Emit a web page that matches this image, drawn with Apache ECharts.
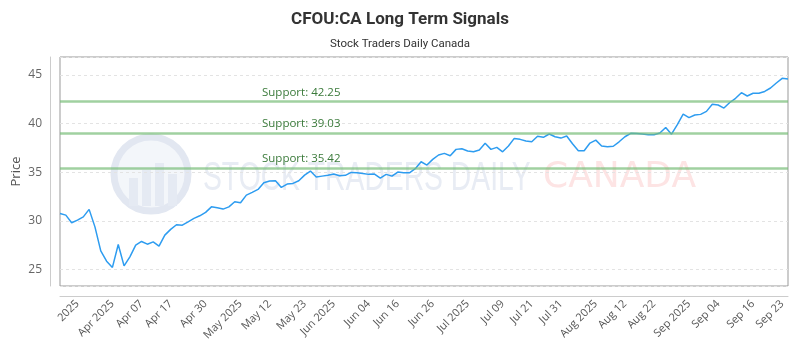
<!DOCTYPE html>
<html>
<head>
<meta charset="utf-8">
<script src="https://cdn.jsdelivr.net/npm/echarts@6/dist/echarts.min.js"></script>
<style>html,body{margin:0;padding:0;background:#fff;}#c{width:800px;height:350px;}</style>
</head>
<body>
<div id="c"></div>
<script>
const titleText = 'CFOU:CA Long Term Signals';
const subtitleText = 'Stock Traders Daily Canada';
const categories = [
  '', '', '', '2025', '', '', '', '', '', 'Apr 2025',
  '', '', '', '', 'Apr 07', '', '', '', '', 'Apr 17',
  '', '', '', '', '', 'Apr 30', '', '', '', '',
  '', 'May 2025', '', '', '', '', 'May 12', '', '', '',
  '', '', 'May 23', '', '', '', '', 'Jun 2025', '', '',
  '', '', '', 'Jun 04', '', '', '', '', 'Jun 16', '',
  '', '', '', '', 'Jun 26', '', '', '', '', '',
  'Jul 2025', '', '', '', '', '', 'Jul 09', '', '', '',
  '', 'Jul 21', '', '', '', '', 'Jul 31', '', '', '',
  '', '', 'Aug 2025', '', '', '', '', 'Aug 12', '', '',
  '', '', 'Aug 22', '', '', '', '', '', 'Sep 2025', '',
  '', '', '', 'Sep 04', '', '', '', '', '', 'Sep 16',
  '', '', '', '', 'Sep 23', ''
];
const prices = [
  30.76, 30.59, 29.80, 30.07, 30.41, 31.18, 29.38, 26.91, 25.85, 25.21,
  27.57, 25.37, 26.30, 27.50, 27.88, 27.60, 27.84, 27.40, 28.53, 29.12,
  29.60, 29.56, 29.90, 30.25, 30.52, 30.87, 31.44, 31.34, 31.21, 31.44,
  31.96, 31.86, 32.65, 32.93, 33.23, 33.91, 34.09, 34.12, 33.44, 33.78,
  33.85, 34.12, 34.70, 35.12, 34.50, 34.60, 34.68, 34.81, 34.63, 34.68,
  34.98, 34.94, 34.88, 34.78, 34.81, 34.40, 34.78, 34.60, 35.02, 34.94,
  34.94, 35.36, 36.08, 35.74, 36.32, 36.77, 36.94, 36.69, 37.35, 37.41,
  37.18, 37.10, 37.28, 37.97, 37.35, 37.56, 37.10, 37.69, 38.48, 38.38,
  38.21, 38.13, 38.70, 38.59, 38.93, 38.65, 38.51, 38.72, 37.93, 37.21,
  37.21, 38.00, 38.30, 37.70, 37.62, 37.67, 38.13, 38.65, 39.00, 38.98,
  38.94, 38.86, 38.86, 39.03, 39.60, 38.91, 39.89, 40.97, 40.62, 40.88,
  40.95, 41.26, 41.99, 41.91, 41.60, 42.17, 42.60, 43.18, 42.84, 43.12,
  43.12, 43.31, 43.66, 44.18, 44.66, 44.60
];
const supportLevels = [42.25, 39.03, 35.42];
const yTicks = [25, 30, 35, 40, 45];

const chart = echarts.init(document.getElementById('c'), null, {renderer: 'canvas'});
const option = {
  animation: false,
  backgroundColor: '#fff',
  title: [
    {text: titleText, left: 'center', top: 6,
     textStyle: {fontFamily: 'Roboto, sans-serif', fontSize: 17, fontWeight: 'bold', color: '#333'}},
    {text: subtitleText, left: 'center', top: 33,
     textStyle: {fontFamily: 'Roboto, sans-serif', fontSize: 11.5, fontWeight: 'normal', color: '#333'}}
  ],
  graphic: [
    {type: 'circle', shape: {cx: 151, cy: 174, r: 37}, style: {fill: 'rgba(222,228,240,0.35)', stroke: '#e2e7f1', lineWidth: 7}, z: -10, silent: true},
    {type: 'rect', shape: {x: 129, y: 178, width: 9, height: 28}, style: {fill: '#e5eaf3'}, z: -10, silent: true},
    {type: 'rect', shape: {x: 142, y: 170, width: 9, height: 36}, style: {fill: '#e5eaf3'}, z: -10, silent: true},
    {type: 'rect', shape: {x: 155, y: 163, width: 9, height: 43}, style: {fill: '#e5eaf3'}, z: -10, silent: true},
    {type: 'rect', shape: {x: 168, y: 174, width: 9, height: 32}, style: {fill: '#e5eaf3'}, z: -10, silent: true},
    {type: 'text', x: 203, y: 158, scaleX: 0.69, z: -10, silent: true,
     style: {text: 'STOCK TRADERS DAILY', font: '41px "Liberation Sans", sans-serif', fill: '#e8ecf4', verticalAlign: 'top', align: 'left'}},
    {type: 'text', x: 543, y: 160, z: -10, silent: true,
     style: {text: 'CANADA', font: '36px "DejaVu Sans", sans-serif', fill: '#fde4e4', verticalAlign: 'top', align: 'left'}}
  ],
  grid: {left: 60, right: 12, top: 57, bottom: 64, show: true, borderColor: '#999', borderWidth: 1,
         backgroundColor: 'transparent', outerBoundsMode: 'none', containLabel: false},
  xAxis: {
    type: 'category', data: categories, boundaryGap: false, offset: 10,
    axisLine: {show: true, lineStyle: {color: '#ccc'}},
    axisTick: {show: false},
    axisLabel: {interval: 0, rotate: 45, margin: 6, color: '#555', fontSize: 11, fontFamily: 'Open Sans, sans-serif'},
    splitLine: {show: false}
  },
  yAxis: {
    type: 'value', min: 23.3, max: 46.85, offset: 10,
    name: 'Price', nameLocation: 'middle', nameGap: 27, nameMoveOverlap: false,
    nameTextStyle: {color: '#555', fontSize: 13, fontFamily: 'Open Sans, sans-serif'},
    axisLine: {show: true, lineStyle: {color: '#ccc'}},
    axisTick: {show: false},
    axisLabel: {color: '#666', fontSize: 12, fontFamily: 'Open Sans, sans-serif', margin: 8,
      formatter: function (v) { return yTicks.indexOf(Math.round(v * 100) / 100) >= 0 ? String(v) : ''; }},
    splitLine: {show: true, lineStyle: {color: '#e3e3e3', type: [3, 3]}}
  },
  series: [{
    type: 'line', data: prices, showSymbol: false, symbol: 'none',
    lineStyle: {color: '#2d9cf0', width: 1.5}, z: 3,
    markLine: {
      silent: true, symbol: 'none',
      lineStyle: {color: 'rgba(120,190,120,0.7)', width: 2.5, type: 'solid'},
      label: {position: 'insideStartTop', formatter: 'Support: {c}', color: '#3a7a3a', fontSize: 11.5,
              fontFamily: 'Open Sans, sans-serif', distance: [202, 3]},
      data: supportLevels.map(v => ({yAxis: v}))
    }
  }]
};
chart.setOption(option);
</script>
</body>
</html>
